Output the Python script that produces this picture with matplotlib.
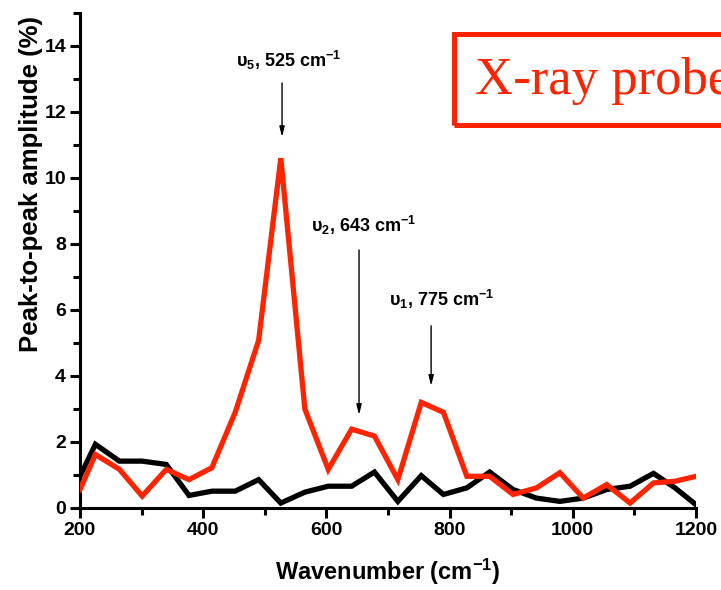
import matplotlib
matplotlib.use('Agg')
import matplotlib.pyplot as plt
from matplotlib.patches import Rectangle
from matplotlib.ticker import MultipleLocator

# wavenumber grid (cm-1)
wavenumber = [200, 225, 264, 301, 340, 377, 414, 452, 490, 526, 565, 603, 641, 678,
              716, 754, 790, 828, 865, 903, 941, 979, 1017, 1055, 1093, 1131, 1166, 1200]
red_amp = [0.56, 1.62, 1.17, 0.36, 1.17, 0.86, 1.22, 2.9, 5.08, 10.6, 3.0, 1.17, 2.39, 2.18,
           0.86, 3.2, 2.9, 0.96, 0.96, 0.41, 0.61, 1.07, 0.3, 0.71, 0.15, 0.76, 0.81, 0.96]
black_amp = [0.96, 1.93, 1.42, 1.42, 1.32, 0.38, 0.51, 0.51, 0.86, 0.15, 0.48, 0.66, 0.66, 1.09,
             0.2, 0.98, 0.41, 0.61, 1.09, 0.56, 0.3, 0.2, 0.3, 0.56, 0.66, 1.05, 0.61, 0.1]

mode_labels = ['υ$_5$, 525 cm$^{-1}$', 'υ$_2$, 643 cm$^{-1}$', 'υ$_1$, 775 cm$^{-1}$']
label_pos = [(453, 13.36), (575, 8.35), (702, 6.12)]
arrow_x = [528, 653, 770]
arrow_top = [12.88, 7.82, 5.52]
arrow_tip = [11.24, 2.82, 3.70]

red = '#FF2400'

plt.rcParams['font.family'] = ['Liberation Sans', 'DejaVu Sans']
plt.rcParams['font.weight'] = 'bold'
plt.rcParams['mathtext.default'] = 'regular'

fig = plt.figure(figsize=(7.21, 5.90), dpi=100)
ax = fig.add_axes([80/721, 82/590, 616/721, 495/590])

ax.plot(wavenumber, black_amp, color='black', lw=3.8, solid_joinstyle='miter', zorder=3)
ax.plot(wavenumber, red_amp, color=red, lw=3.8, solid_joinstyle='miter', zorder=4)

ax.set_xlim(200, 1200)
ax.set_ylim(0, 15)
ax.xaxis.set_major_locator(MultipleLocator(200))
ax.xaxis.set_minor_locator(MultipleLocator(100))
ax.yaxis.set_major_locator(MultipleLocator(2))
ax.yaxis.set_minor_locator(MultipleLocator(1))

for side in ['top', 'right']:
    ax.spines[side].set_visible(False)
for side in ['left', 'bottom']:
    ax.spines[side].set_linewidth(2.2)
ax.tick_params(which='major', direction='out', length=7, width=2.2, labelsize=14, pad=3)
ax.tick_params(which='minor', direction='out', length=5, width=2.2)
for lbl in ax.get_xticklabels() + ax.get_yticklabels():
    lbl.set_fontweight('bold')

ax.set_xlabel('Wavenumber (cm$^{-1}$)', fontsize=17, fontweight='bold', labelpad=13)
ax.set_ylabel('Peak-to-peak amplitude (%)', fontsize=18.5, fontweight='bold')
ax.yaxis.set_label_coords(-0.06, 0.655)

for txt, (tx, ty), ax_x, y0, y1 in zip(mode_labels, label_pos, arrow_x, arrow_top, arrow_tip):
    ax.text(tx, ty, txt, fontsize=13, fontweight='bold', ha='left', va='baseline')
    ax.annotate('', xy=(ax_x, y1), xytext=(ax_x, y0),
                arrowprops=dict(arrowstyle='-|>,head_length=0.6,head_width=0.15',
                                color='black', lw=1.0, shrinkA=0, shrinkB=0))

box = Rectangle((807, 11.6), 600, 2.76, fill=False, edgecolor=red, lw=3.6,
                clip_on=False, zorder=5)
ax.add_patch(box)
ax.text(842, 12.55, 'X-ray probe', color=red, fontsize=38, family='Liberation Serif',
        fontweight='normal', ha='left', va='baseline', clip_on=False)

fig.savefig('out.png', dpi=100)
